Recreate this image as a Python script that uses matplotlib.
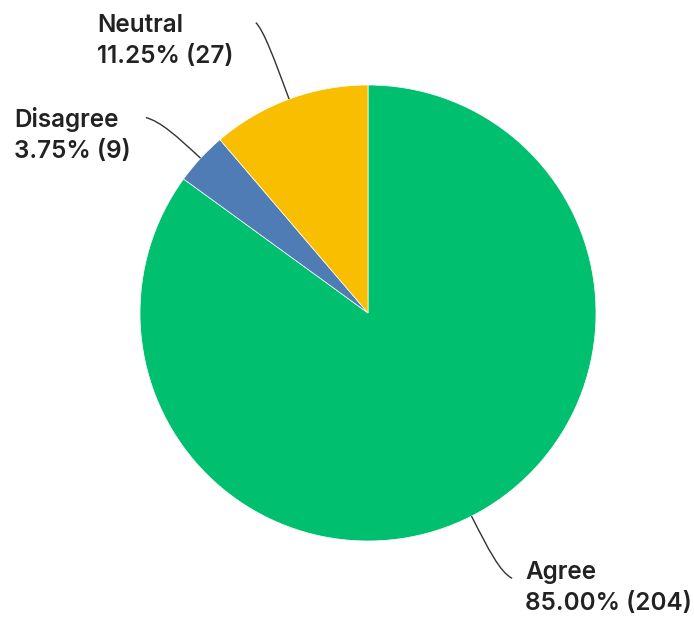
import numpy as np
import matplotlib.pyplot as plt
from matplotlib.path import Path
from matplotlib.patches import PathPatch

# survey answers, drawn clockwise from 12 o'clock
answers = ['Agree', 'Disagree', 'Neutral']
counts = [204, 9, 27]
percents = [85.00, 3.75, 11.25]
colors = ['#00BF6F', '#507CB6', '#F9BE00']

W, H = 694, 618
fig = plt.figure(figsize=(W / 100, H / 100), dpi=100)
ax = fig.add_axes([0, 0, 1, 1])

cx, cy, r = 368, H - 313, 228
wedges, _ = ax.pie(counts, colors=colors, startangle=90, counterclock=False,
                   center=(cx, cy), radius=r, frame=True,
                   wedgeprops=dict(linewidth=0.5, edgecolor='white'))
ax.set_xlim(0, W)
ax.set_ylim(0, H)
ax.set_aspect('equal')
ax.axis('off')

# leader line length, end hook and label anchor (pixel coords, y down)
leader_len = [63, 54, 73]
hooks = [(12, -6), (-15, 4), (-8, 8)]
label_pos = [(525, 588), (14, 135), (97, 41)]

for w, pct, n, name, L, (hx, hy), (lx, ly) in zip(
        wedges, percents, counts, answers, leader_len, hooks, label_pos):
    ang = np.deg2rad((w.theta1 + w.theta2) / 2)
    u = np.array([np.cos(ang), np.sin(ang)])
    p0 = np.array([cx, cy]) + u * r
    p1 = p0 + u * L * 0.6
    p2 = p0 + u * L
    p3 = p2 + np.array([hx, hy])
    path = Path([p0, p1, p2, p3], [Path.MOVETO, Path.CURVE4, Path.CURVE4, Path.CURVE4])
    ax.add_patch(PathPatch(path, fill=False, edgecolor='#333333', linewidth=1.0))
    ax.text(lx, H - ly, f'{name}\n{pct:.2f}% ({n})', ha='left', va='center',
            fontsize=17.5, fontweight='semibold', family=['Inter', 'DejaVu Sans'],
            color='#222222', linespacing=1.4)

fig.savefig('out.png', dpi=100)
